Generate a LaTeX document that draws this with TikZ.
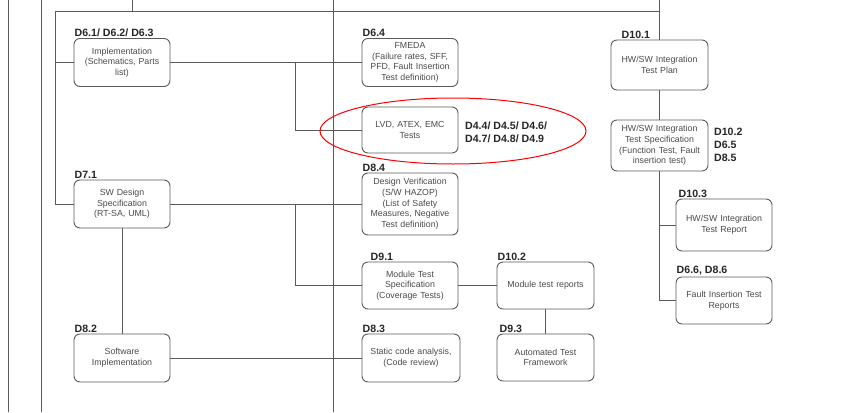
\documentclass[tikz,border=0pt]{standalone}
\usepackage{fontspec}
\setmainfont{Liberation Sans}
\usetikzlibrary{positioning}

\definecolor{linegray}{HTML}{5A5A5A}
\definecolor{txtgray}{HTML}{4A4A4A}
\definecolor{lblblack}{HTML}{262626}

\tikzset{every picture/.style={line width=0.8pt}}
\tikzset{
  wire/.style={draw=linegray, line width=0.8pt},
  box/.style={draw=linegray, rounded corners=6pt, line width=0.9pt, align=center,
    text=txtgray, inner sep=1pt, font=\fontsize{8.8}{10.7}\selectfont,
    minimum width=96pt, minimum height=48pt, text width=92pt},
  lbl/.style={anchor=south west, inner sep=0.75pt, text=lblblack,
    font=\fontsize{10.6}{12.6}\selectfont\bfseries},
}

\begin{document}
\begin{tikzpicture}[x=1pt,y=-1pt]
\useasboundingbox (0,0) rectangle (853,412);

%Boxes
\node[box] (impl) at (122,62.5) {Implementation\\(Schematics, Parts\\list)};
\node[box] (fmeda) at (410,62.5) {FMEDA\\(Failure rates, SFF,\\PFD, Fault Insertion\\Test definition)};
\node[box, minimum height=46pt] (lvd) at (410,130) {LVD, ATEX, EMC\\Tests};
\node[box] (swds) at (122,204) {SW Design\\Specification\\(RT-SA, UML)};
\node[box] (swimpl) at (122,358) {Software\\Implementation};
\node[box, minimum height=62pt] (desver) at (410,204) {Design Verification\\(S/W HAZOP)\\(List of Safety\\Measures, Negative\\Test definition)};
\node[box, minimum height=47pt] (modspec) at (410,285.5) {Module Test\\Specification\\(Coverage Tests)};
\node[box, minimum height=47pt, minimum width=97pt] (modrep) at (545.5,285.5) {Module test reports};
\node[box, minimum width=98pt] (static) at (411,358) {Static code analysis,\\(Code review)};
\node[box, minimum height=47pt, minimum width=97pt] (autofw) at (545.5,357.5) {Automated Test\\Framework};
\node[box, minimum height=50pt, minimum width=97pt] (itplan) at (659.5,65) {HW/SW Integration\\Test Plan};
\node[box, minimum height=51pt, minimum width=97pt] (itspec) at (659.5,145.5) {HW/SW Integration\\Test Specification\\(Function Test, Fault\\insertion test)};
\node[box, minimum height=52pt] (itrep) at (724,225) {HW/SW Integration\\Test Report};
\node[box, minimum height=47pt] (fitrep) at (724,300.5) {Fault Insertion Test\\Reports};

%Labels
\node[lbl] (l-impl) at (impl.north west) {D6.1/ D6.2/ D6.3};
\node[lbl] (l-fmeda) at (fmeda.north west) {D6.4};
\node[lbl] (l-swds) at (swds.north west) {D7.1};
\node[lbl] (l-swimpl) at (swimpl.north west) {D8.2};
\node[lbl] (l-desver) at (desver.north west) {D8.4};
\node[lbl] (l-modspec) at ([xshift=8pt]modspec.north west) {D9.1};
\node[lbl] (l-modrep) at (modrep.north west) {D10.2};
\node[lbl] (l-static) at (static.north west) {D8.3};
\node[lbl] (l-autofw) at ([xshift=2pt]autofw.north west) {D9.3};
\node[lbl] (l-itplan) at ([xshift=10pt]itplan.north west) {D10.1};
\node[lbl] (l-itrep) at ([xshift=2pt]itrep.north west) {D10.3};
\node[lbl] (l-fitrep) at (fitrep.north west) {D6.6, D8.6};
\node[lbl, anchor=west, align=left] (l-lvd) at (464,132.5) {D4.4/ D4.5/ D4.6/\\D4.7/ D4.8/ D4.9};
\node[lbl, anchor=west, align=left, font=\fontsize{10.6}{13}\selectfont\bfseries] (l-itspec) at (713,144.5) {D10.2\\D6.5\\D8.5};

%Frame lines
\coordinate (f1t) at (8,0);   \coordinate (f1b) at (8,412);
\coordinate (f2t) at (41,0);  \coordinate (f2b) at (41,412);
\coordinate (f3t) at (333,0); \coordinate (f3b) at (333,412);
\draw[wire] (f1t) -- (f1b);
\draw[wire] (f2t) -- (f2b);
\draw[wire] (f3t) -- (f3b);

%Top bus
\coordinate (topL) at (55,11);
\coordinate (topR) at (659.5,11);
\coordinate (inT) at (132,0);
\coordinate (inR) at (659.5,0);
\draw[wire] (inT) -- (inT|-topL);
\draw[wire] (topL) -- (topR);
\draw[wire] (inR) -- (itplan.north);
\draw[wire] (topL) |- (swds.west);
\draw[wire] (topL|-impl.west) -- (impl.west);

%Connections
\coordinate (br1) at (295,62.5);
\coordinate (br2) at (295,204);
\draw[wire] (impl.east) -- (fmeda.west);
\draw[wire] (br1) |- (lvd.west);
\draw[wire] (swds.east) -- (desver.west);
\draw[wire] (br2) |- (modspec.west);
\draw[wire] (swds.south) -- (swimpl.north);
\draw[wire] (swimpl.east) -- (static.west);
\draw[wire] (modspec.east) -- (modrep.west);
\draw[wire] (modrep.south) -- (autofw.north);
\draw[wire] (itplan.south) -- (itspec.north);
\draw[wire] (itspec.south) |- (fitrep.west);
\draw[wire] (itspec.south|-itrep.west) -- (itrep.west);

%Highlight
\draw[red, line width=1pt] (453,131) ellipse [x radius=133, y radius=33];
\end{tikzpicture}
\end{document}
